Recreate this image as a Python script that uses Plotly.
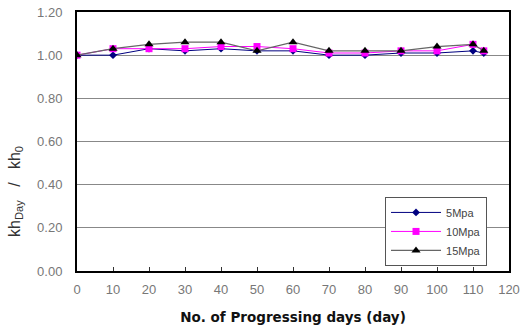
import plotly.graph_objects as go

days = [0, 10, 20, 30, 40, 50, 60, 70, 80, 90, 100, 110, 113]
mpa5 = [1.00, 1.00, 1.03, 1.02, 1.03, 1.02, 1.02, 1.00, 1.00, 1.01, 1.01, 1.02, 1.01]
mpa10 = [1.00, 1.03, 1.03, 1.03, 1.04, 1.04, 1.03, 1.01, 1.01, 1.02, 1.02, 1.05, 1.02]
mpa15 = [1.00, 1.03, 1.05, 1.06, 1.06, 1.02, 1.06, 1.02, 1.02, 1.02, 1.04, 1.05, 1.02]
y_ticks = [0.0, 0.2, 0.4, 0.6, 0.8, 1.0, 1.2]
x_ticks = list(range(0, 121, 10))

fig = go.Figure()
fig.add_trace(go.Scatter(x=days, y=mpa5, name="5Mpa", mode="lines+markers",
                         line=dict(color="#000080", width=1),
                         marker=dict(symbol="diamond", size=6, color="#000080")))
fig.add_trace(go.Scatter(x=days, y=mpa10, name="10Mpa", mode="lines+markers",
                         line=dict(color="#FF00FF", width=1),
                         marker=dict(symbol="square", size=7, color="#FF00FF")))
fig.add_trace(go.Scatter(x=days, y=mpa15, name="15Mpa", mode="lines+markers",
                         line=dict(color="#666666", width=1.2),
                         marker=dict(symbol="triangle-up", size=8, color="#000000")))

fig.update_layout(
    width=520, height=331,
    margin=dict(l=77, r=11, t=12, b=60),
    paper_bgcolor="white", plot_bgcolor="white",
    font=dict(family="Liberation Sans", size=11, color="#555555"),
    xaxis=dict(range=[0, 120], tickvals=x_ticks, ticks="inside", ticklen=4,
               tickcolor="#333", showgrid=False, showline=True, linecolor="black",
               linewidth=2, mirror=True, zeroline=False, automargin=False,
               ticklabelstandoff=5, ticklabeloverflow="allow",
               tickfont=dict(family="Liberation Sans", size=13, color="#777777"),
               title=dict(text="<b>No. of Progressing days (day)</b>",
                          font=dict(family="DejaVu Sans", size=13.5, color="#111111"),
                          standoff=17)),
    yaxis=dict(range=[0, 1.2], tickvals=y_ticks, tickformat=".2f",
               showgrid=True, gridcolor="#888888", gridwidth=1,
               showline=True, linecolor="black", linewidth=2, mirror=True,
               zeroline=False, ticks="", automargin=False,
               ticklabelstandoff=10, ticklabeloverflow="allow",
               tickfont=dict(family="Liberation Sans", size=13, color="#777777")),
    legend=dict(x=0.713, y=0.286, xanchor="left", yanchor="top",
                bgcolor="white", bordercolor="#555555", borderwidth=1,
                font=dict(family="Liberation Sans", size=11, color="#444444"),
                itemwidth=50, tracegroupgap=0),
    showlegend=True,
    annotations=[dict(text="kh<sub>Day</sub>   /   kh<sub>0</sub>",
                      xref="paper", yref="paper", x=-0.1435, y=0.305,
                      xanchor="center", yanchor="middle", textangle=-90,
                      showarrow=False,
                      font=dict(family="Liberation Sans", size=16, color="#333333"))],
)

fig.write_html("out.html",
               config={"displayModeBar": False},
               post_script="document.body.style.margin='0';document.body.style.overflow='hidden';")
